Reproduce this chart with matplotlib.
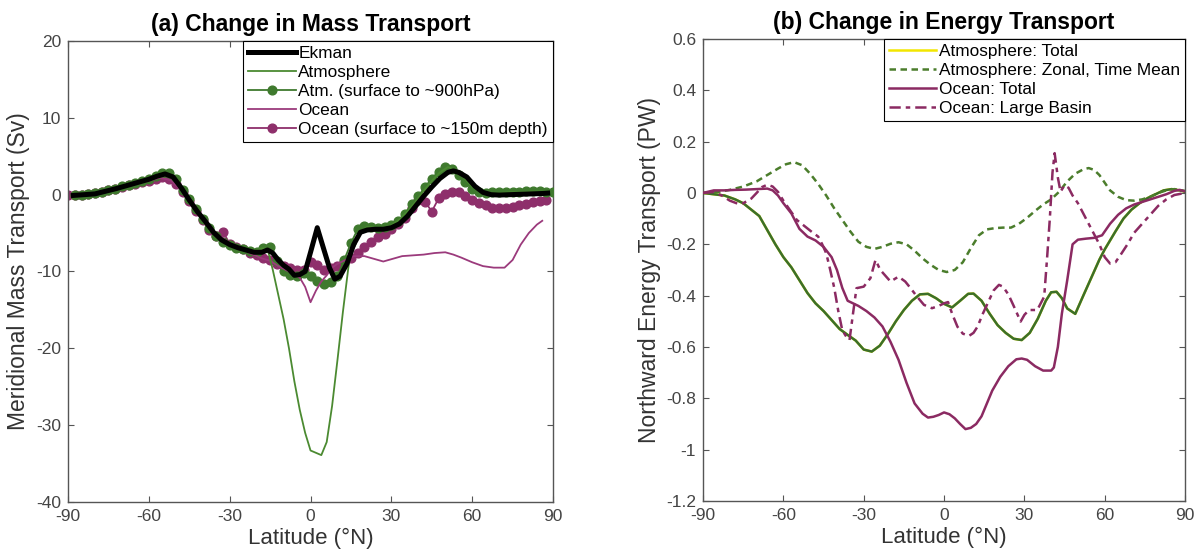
import matplotlib
matplotlib.use("Agg")
import matplotlib.pyplot as plt
import numpy as np

plt.rcParams['font.family'] = ['Liberation Sans', 'DejaVu Sans']
plt.rcParams['axes.unicode_minus'] = False

# ---------------- (a) mass transport (Sv) ----------------
lat_ekman = [-88, -84, -80, -76, -72, -68, -64, -60, -57, -54, -51, -48, -45, -42, -39,
             -36, -33, -30, -27, -24, -21, -18, -16, -14, -12, -10, -8, -6, -4, -2, 0,
             2.5, 5, 7, 9, 11, 13.5, 16, 18.5, 21, 24, 27, 30, 33, 36, 39, 42, 45, 48,
             51, 53, 55, 58, 61, 64, 67, 70, 74, 78, 82, 86, 88]
ekman = [-0.1, 0.0, 0.1, 0.45, 0.8, 1.2, 1.6, 2.0, 2.4, 2.7, 2.3, 0.9, -0.7, -2.2, -3.5,
         -4.9, -5.9, -6.5, -6.9, -7.2, -7.5, -7.5, -7.2, -7.6, -8.5, -9.2, -9.7, -10.5, -10.4, -10.0, -7.5,
         -4.3, -7.2, -9.5, -11.0, -10.6, -9.0, -6.5, -4.9, -4.6, -4.5, -4.5, -4.3, -3.8, -2.8, -1.5, -0.2, 1.0, 2.1,
         2.9, 3.1, 2.9, 2.3, 1.1, 0.3, 0.0, -0.05, 0.0, 0.05, 0.1, 0.15, 0.2]

lat_atm = [-88, -84, -80, -76, -72, -68, -64, -60, -57, -54, -51, -48, -45, -42, -39,
           -36, -33, -30, -27, -24, -21, -18, -16, -14, -12, -10, -8, -6, -4, -2, 0,
           2, 4, 6, 8, 10, 12, 14, 15, 18, 21, 24, 27, 30, 33, 36, 39, 42, 45, 48,
           51, 54, 57, 60, 63, 66, 70, 74, 78, 82, 86, 88]
atm = [-0.1, 0.0, 0.15, 0.5, 0.85, 1.25, 1.65, 2.1, 2.6, 2.9, 2.4, 1.0, -0.6, -2.1, -3.4,
       -4.8, -5.8, -6.4, -6.8, -7.1, -7.3, -7.0, -7.0, -9.8, -13.0, -16.2, -20.0, -24.3, -28.0, -31.0, -33.3,
       -33.6, -33.9, -32.2, -27.5, -21.5, -15.3, -9.6, -7.2, -5.0, -4.2, -4.3, -4.3, -4.0, -3.2, -2.2, -0.9, 0.5, 1.8, 2.9,
       3.6, 3.2, 2.2, 1.0, 0.4, 0.2, 0.2, 0.3, 0.3, 0.4, 0.4, 0.4]

lat_atm_sfc = [-87.5, -85, -82.5, -80, -77.5, -75, -72.5, -70, -67.5, -65, -62.5, -60,
               -57.5, -55, -52.5, -50, -47.5, -45, -42.5, -40, -37.5, -35, -32.5, -30,
               -27.5, -25, -22.5, -20, -17.5, -15, -12.5, -10, -7.5, -5, -2.5, 0,
               2.5, 5, 7.5, 10, 12.5, 15, 17.5, 20, 22.5, 25, 27.5, 30, 32.5, 35,
               37.5, 40, 42.5, 45, 47.5, 50, 52.5, 55, 57.5, 60, 62.5, 65, 67.5, 70,
               72.5, 75, 77.5, 80, 82.5, 85, 87.5, 90]
atm_sfc = [0.0, 0.0, 0.1, 0.2, 0.4, 0.6, 0.8, 1.1, 1.3, 1.5, 1.8, 2.0,
           2.4, 2.8, 2.8, 2.0, 0.6, -0.6, -1.9, -3.2, -4.3, -5.4, -6.1, -6.5,
           -6.9, -7.1, -7.3, -7.4, -6.9, -6.8, -8.6, -10.0, -10.4, -10.6, -10.2, -10.6,
           -11.2, -11.6, -11.4, -10.6, -8.5, -6.3, -4.5, -4.1, -4.2, -4.3, -4.2, -4.0, -3.4, -2.5,
           -1.2, -0.2, 1.0, 2.1, 3.0, 3.6, 3.4, 2.6, 1.6, 0.8, 0.3, 0.2, 0.3, 0.4,
           0.4, 0.3, 0.4, 0.5, 0.5, 0.5, 0.4, 0.4]

lat_ocean = [-88, -84, -80, -76, -72, -68, -64, -60, -56, -52, -48, -45, -42, -39, -36,
             -33, -30, -26, -22, -18, -15, -12, -8, -4, -2, 0, 2, 4, 6, 8, 10, 13, 16,
             20, 24, 27, 30, 34, 38, 42, 46, 50, 53, 56, 60, 64, 68, 72, 75, 78, 81, 84, 86]
ocean = [-0.1, 0.0, 0.2, 0.5, 0.8, 1.1, 1.5, 1.8, 2.2, 1.9, 0.6, -0.8, -2.1, -3.6, -5.0,
         -5.5, -6.4, -7.0, -7.7, -8.3, -8.6, -9.3, -10.0, -10.8, -12.0, -14.0, -12.5, -11.3, -10.5, -9.5, -9.0, -8.5, -8.0,
         -8.0, -8.4, -8.7, -8.4, -8.0, -7.9, -7.8, -7.6, -7.5, -7.8, -8.2, -8.8, -9.3, -9.5, -9.5, -8.5, -6.5, -5.0, -3.9, -3.4]

lat_ocean_sfc = [-90, -87.5, -85, -82.5, -80, -77.5, -75, -72.5, -70, -67.5, -65, -62.5, -60,
                 -57.5, -55, -52.5, -50, -47.5, -45, -42.5, -40, -37.5, -35, -32.5, -30,
                 -27.5, -25, -22.5, -20, -17.5, -15, -12.5, -10, -7.5, -5, -2.5, 0,
                 2.5, 5, 7.5, 10, 12.5, 15, 17.5, 20, 22.5, 25, 27.5, 30, 32.5, 35,
                 37.5, 40, 42.5, 45, 47.5, 50, 52.5, 55, 57.5, 60, 62.5, 65, 67.5, 70,
                 72.5, 75, 77.5, 80, 82.5, 85, 87.5]
ocean_sfc = [0.0, -0.1, 0.0, 0.1, 0.2, 0.4, 0.6, 0.8, 1.0, 1.2, 1.4, 1.6, 1.8,
             2.1, 2.3, 2.0, 1.4, 0.4, -0.8, -2.1, -3.3, -4.6, -5.4, -4.8, -6.4,
             -6.8, -7.1, -7.6, -7.9, -8.2, -8.5, -9.0, -9.3, -9.6, -9.8, -9.8, -8.8,
             -9.2, -9.8, -9.6, -9.3, -8.8, -8.2, -7.6, -6.8, -6.2, -5.5, -5.1, -4.5, -3.8, -3.0,
             -1.8, -0.7, -0.9, -2.2, -0.5, 0.1, 0.4, 0.3, -0.2, -0.7, -1.1, -1.4, -1.7, -1.8,
             -1.7, -1.6, -1.4, -1.2, -1.0, -0.8, -0.7]

# ---------------- (b) energy transport (PW) ----------------
lat_atm_total = [-90, -86, -82, -78, -75, -72, -69, -66, -63, -60, -57, -54, -51, -48, -45,
                 -42, -39, -36, -33, -30, -27, -24, -21, -18, -15, -12, -9, -6, -3, 0,
                 3, 6, 9, 11, 14, 17, 20, 23, 26, 29, 32, 35, 38, 40, 42, 44, 46, 49,
                 52, 55, 58, 60, 62, 64, 67, 70, 73, 76, 79, 82, 85, 88, 90]
atm_total = [0.0, -0.005, -0.01, -0.025, -0.04, -0.065, -0.09, -0.145, -0.2, -0.25, -0.29, -0.34, -0.39, -0.43, -0.46,
             -0.495, -0.53, -0.553, -0.575, -0.61, -0.618, -0.595, -0.55, -0.5, -0.456, -0.42, -0.395, -0.393, -0.41, -0.432,
             -0.446, -0.42, -0.393, -0.392, -0.42, -0.47, -0.515, -0.545, -0.568, -0.573, -0.545, -0.49, -0.42, -0.387, -0.385, -0.41, -0.45, -0.471,
             -0.40, -0.33, -0.26, -0.22, -0.185, -0.15, -0.1, -0.065, -0.04, -0.02, -0.005, 0.01, 0.015, 0.01, 0.005]

lat_atm_zonal = [-90, -85, -80, -75, -70, -66, -62, -59, -56, -53, -50, -47, -44, -41, -38,
                 -35, -32, -29, -26, -23, -20, -17, -14, -11, -8, -5, -2, 1, 4, 7, 10,
                 13, 16, 19, 22, 25, 28, 31, 34, 37, 40, 43, 46, 49, 52, 54, 56, 58,
                 60, 62, 65, 68, 71, 74, 77, 80, 83, 86, 90]
atm_zonal = [0.0, 0.003, 0.012, 0.025, 0.045, 0.07, 0.095, 0.112, 0.12, 0.108, 0.075, 0.035, -0.01, -0.06, -0.105,
             -0.15, -0.19, -0.21, -0.218, -0.21, -0.198, -0.192, -0.2, -0.225, -0.255, -0.28, -0.3, -0.308, -0.3, -0.27, -0.215,
             -0.165, -0.142, -0.137, -0.135, -0.135, -0.12, -0.097, -0.07, -0.045, -0.025, 0.005, 0.045, 0.075, 0.092, 0.097, 0.09, 0.07,
             0.04, 0.01, -0.015, -0.028, -0.03, -0.025, -0.015, 0.0, 0.01, 0.015, 0.008]

lat_ocean_total = [-90, -86, -82, -78, -74, -70, -66, -64, -62, -60, -57, -54, -51, -48, -45,
                   -42, -40, -38, -36, -34, -32, -29, -26, -23, -20, -17, -14, -11, -8, -6,
                   -4, -2, 0, 2, 4, 6, 8, 10, 12, 14, 16, 18, 21, 24, 27, 29, 31, 34,
                   37, 40, 41, 42.5, 44, 46, 48, 50, 53, 56, 59, 62, 65, 68, 71, 74,
                   77, 80, 83, 86, 88, 90]
ocean_total = [0.0, 0.01, 0.01, 0.012, 0.013, 0.015, 0.017, 0.01, -0.01, -0.04, -0.08, -0.14, -0.17, -0.185, -0.21,
               -0.25, -0.3, -0.37, -0.42, -0.43, -0.44, -0.46, -0.485, -0.52, -0.58, -0.65, -0.74, -0.82, -0.86, -0.875,
               -0.872, -0.865, -0.855, -0.862, -0.878, -0.9, -0.92, -0.915, -0.9, -0.87, -0.82, -0.77, -0.716, -0.675, -0.648, -0.645, -0.65, -0.675,
               -0.692, -0.692, -0.68, -0.6, -0.47, -0.34, -0.2, -0.182, -0.178, -0.175, -0.165, -0.12, -0.085, -0.06, -0.045, -0.035,
               -0.025, -0.015, -0.005, 0.008, 0.012, 0.006]

lat_ocean_basin = [-90, -86, -83, -80, -77, -75, -72, -70, -68, -66, -64, -62, -60, -58, -55,
                   -52, -49, -47, -45.5, -44, -42.5, -41, -39.5, -38, -36.5, -35.3, -34, -32.7, -30,
                   -27.5, -25.6, -23.8, -20, -17, -14.5, -12.5, -10, -7.5, -4.5, -2, 0, 1.5, 3, 5,
                   7, 9.3, 11, 12.5, 14.5, 16.5, 18.5, 20.5, 22, 24, 26, 28.6, 30, 31.7, 34.8,
                   37.4, 38.5, 39.5, 40.5, 41.3, 42.5, 43.5, 45, 46.5, 48, 50, 52, 54, 56, 58,
                   60, 62, 64, 66, 68.5, 71, 74, 77, 80, 83, 86, 90]
ocean_basin = [0.0, 0.004, -0.01, -0.03, -0.042, -0.04, -0.022, 0.0, 0.023, 0.032, 0.025, 0.004, -0.03, -0.06, -0.105,
               -0.13, -0.155, -0.17, -0.2, -0.235, -0.3, -0.37, -0.46, -0.535, -0.56, -0.573, -0.47, -0.371, -0.365,
               -0.332, -0.261, -0.3, -0.345, -0.326, -0.345, -0.371, -0.405, -0.436, -0.449, -0.44, -0.43, -0.425, -0.47, -0.521,
               -0.548, -0.557, -0.545, -0.521, -0.47, -0.425, -0.38, -0.358, -0.365, -0.395, -0.44, -0.501, -0.475, -0.456, -0.456,
               -0.404, -0.25, -0.1, 0.08, 0.155, 0.06, 0.005, 0.03, 0.02, -0.01, -0.04, -0.08, -0.12, -0.16, -0.2,
               -0.25, -0.275, -0.27, -0.24, -0.2, -0.155, -0.12, -0.085, -0.05, -0.025, -0.008, 0.0]

lat_ticks = [-90, -60, -30, 0, 30, 60, 90]
mass_ticks = [-40, -30, -20, -10, 0, 10, 20]
energy_ticks = [-1.2, -1.0, -0.8, -0.6, -0.4, -0.2, 0.0, 0.2, 0.4, 0.6]
energy_tick_labels = ['-1.2', '-1', '-0.8', '-0.6', '-0.4', '-0.2', '0', '0.2', '0.4', '0.6']

GREEN_LINE = '#4b8a31'
GREEN_DOT = '#3f7a2e'
PURPLE_LINE = '#9b3a7c'
PURPLE_DOT = '#8e2f6b'
GREEN_B = '#3b6f2a'
GREEN_B_DASH = '#4b7d2c'
PURPLE_B = '#8b2a62'
TICK_COLOR = '#444444'

fig = plt.figure(figsize=(12.02, 5.54), dpi=100)
ax1 = fig.add_axes([0.0566, 0.0939, 0.4035, 0.8321])
ax2 = fig.add_axes([0.5849, 0.0957, 0.4010, 0.8340])


def style_axes(ax):
    for s in ax.spines.values():
        s.set_color('#555555')
        s.set_linewidth(1.0)
    ax.tick_params(direction='in', length=4, width=0.8, top=True, right=True,
                   labelsize=12.5, labelcolor=TICK_COLOR, color='#555555', pad=5)


legend_kw = dict(loc='upper right', fontsize=12.4, frameon=True, fancybox=False,
                 framealpha=1, edgecolor='black', borderaxespad=0, borderpad=0.3,
                 labelspacing=0.22, handlelength=2.75, handletextpad=0.15)

# ---- panel (a)
h_ek, = ax1.plot(lat_ekman, ekman, color='black', lw=3.6, zorder=6, label='Ekman')
h_atm, = ax1.plot(lat_atm, atm, color=GREEN_LINE, lw=1.3, zorder=5, label='Atmosphere')
h_atms, = ax1.plot(lat_atm_sfc, atm_sfc, color=GREEN_DOT, lw=1.3, marker='o', ms=6.3,
                   mec=GREEN_DOT, mfc=GREEN_DOT, zorder=3, label='Atm. (surface to ~900hPa)')
h_oc, = ax1.plot(lat_ocean, ocean, color=PURPLE_LINE, lw=1.3, zorder=4, label='Ocean')
h_ocs, = ax1.plot(lat_ocean_sfc, ocean_sfc, color=PURPLE_DOT, lw=1.3, marker='o', ms=6.3,
                  mec=PURPLE_DOT, mfc=PURPLE_DOT, zorder=2, label='Ocean (surface to ~150m depth)')

ax1.set_xlim(-90, 90)
ax1.set_ylim(-40, 20)
ax1.set_xticks(lat_ticks)
ax1.set_yticks(mass_ticks)
style_axes(ax1)
ax1.set_title('(a) Change in Mass Transport', fontsize=16.5, fontweight='bold', pad=7)
ax1.set_xlabel('Latitude (\u00b0N)', fontsize=16, color='#333333', labelpad=3)
ax1.set_ylabel('Meridional Mass Transport (Sv)', fontsize=16.5, color='#333333', labelpad=4)
leg1 = ax1.legend(handles=[h_ek, h_atm, h_atms, h_oc, h_ocs], **legend_kw)
leg1.get_frame().set_linewidth(0.8)

# ---- panel (b)
h_at, = ax2.plot(lat_atm_total, atm_total, color='#f2e600', lw=1.8, zorder=2,
                 label='Atmosphere: Total')
ax2.plot(lat_atm_total, atm_total, color=GREEN_B, lw=1.8, zorder=3)
h_az, = ax2.plot(lat_atm_zonal, atm_zonal, color=GREEN_B_DASH, lw=1.8, ls=(0, (2.6, 1.8)),
                 zorder=3, label='Atmosphere: Zonal, Time Mean')
h_ot, = ax2.plot(lat_ocean_total, ocean_total, color=PURPLE_B, lw=1.8, zorder=4,
                 label='Ocean: Total')
h_ob, = ax2.plot(lat_ocean_basin, ocean_basin, color=PURPLE_B, lw=1.8, ls=(0, (4.5, 2, 1.8, 2)),
                 zorder=4, label='Ocean: Large Basin')

ax2.set_xlim(-90, 90)
ax2.set_ylim(-1.2, 0.6)
ax2.set_xticks(lat_ticks)
ax2.set_yticks(energy_ticks)
ax2.set_yticklabels(energy_tick_labels)
style_axes(ax2)
ax2.set_title('(b) Change in Energy Transport', fontsize=16.5, fontweight='bold', pad=7)
ax2.set_xlabel('Latitude (\u00b0N)', fontsize=16, color='#333333', labelpad=3)
ax2.set_ylabel('Northward Energy Transport (PW)', fontsize=16.5, color='#333333', labelpad=4)
leg2 = ax2.legend(handles=[h_at, h_az, h_ot, h_ob], **legend_kw)
leg2.get_frame().set_linewidth(0.8)

fig.savefig('out.png', dpi=100)
